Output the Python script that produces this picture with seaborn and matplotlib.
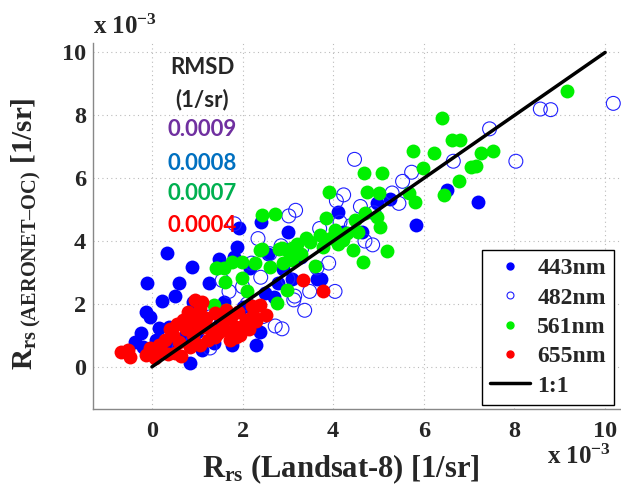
import pandas as pd
import seaborn as sns
import matplotlib.pyplot as plt
from matplotlib.lines import Line2D

# Rrs valores (x 10^-3)
b443_x = [-0.37, -0.20, -0.24, -0.13, -0.04, -0.11, 0.15, 0.37, 0.22, 0.50, 0.60, 0.33, 0.88, 0.90,
          1.26, 1.48, 1.60, 0.84, 1.37, 1.77, 2.30, 2.38, 1.88, 1.80, 1.92, 2.40, 3.00, 2.16, 2.70,
          2.78, 2.50, 3.64, 3.72, 4.10, 4.97, 5.25, 4.63, 4.22, 5.83, 6.50, 7.20, 0.70, 1.00, 1.50,
          0.40, 2.00, 2.90, 3.30, 1.10, 0.10, 2.55, 3.10]
b443_y = [0.80, 0.64, 1.08, 1.75, 1.60, 2.68, 1.24, 1.28, 2.10, 2.26, 2.68, 3.62, 3.18, 2.07,
          2.68, 3.44, 2.07, 0.13, 0.76, 0.70, 0.70, 1.12, 3.80, 3.50, 4.43, 4.60, 4.30, 3.15, 2.23,
          2.68, 2.35, 2.80, 2.80, 4.93, 5.22, 5.35, 4.30, 4.30, 4.52, 5.63, 5.25, 0.95, 1.10, 1.40,
          0.70, 1.90, 3.10, 3.50, 0.55, 0.85, 3.60, 2.80]

b482_x = [10.18, 8.80, 7.45, 6.65, 8.03, 4.47, 5.73, 5.53, 5.30, 5.45, 4.23, 4.07, 4.90, 3.17,
          3.02, 2.34, 1.82, 3.70, 4.87, 3.64, 3.37, 2.87, 2.72, 3.00, 3.48, 4.04, 3.13, 2.60, 2.20,
          1.70, 1.55, 2.00, 2.85, 3.30, 4.40, 4.60, 4.15, 1.28, 1.20, 1.90, 2.20, 2.45, 1.60, 0.90,
          0.60, 1.30, 2.10, 3.15, 3.90, 4.70, 2.40, 8.57]
b482_y = [8.38, 8.18, 7.57, 6.54, 6.54, 6.60, 6.19, 5.90, 5.53, 5.20, 5.47, 5.28, 4.90, 4.98,
          4.80, 4.08, 4.55, 4.40, 3.88, 3.15, 1.80, 1.21, 1.30, 2.80, 2.40, 2.40, 2.13, 3.60, 3.30,
          2.40, 2.75, 2.55, 3.85, 3.75, 4.50, 5.10, 4.60, 0.60, 1.00, 1.10, 1.50, 1.60, 1.30, 0.80,
          0.60, 1.60, 2.00, 2.25, 3.30, 4.00, 2.85, 8.20]

b561_x = [9.16, 6.40, 6.62, 6.80, 5.76, 6.22, 7.26, 7.53, 5.98, 7.04, 7.15, 6.78, 6.45, 5.80,
          5.67, 4.68, 5.08, 3.90, 4.75, 5.00, 3.84, 4.48, 4.97, 5.03, 4.04, 4.22, 3.49, 3.78, 4.44,
          5.19, 4.66, 3.60, 2.72, 2.38, 2.80, 1.77, 1.99, 1.43, 2.27, 2.60, 1.61, 1.99, 2.98, 2.76,
          2.10, 1.37, 1.63, 3.10, 3.30, 3.00, 3.95, 3.70, 4.30, 4.10, 3.20, 2.90, 4.55, 4.70, 3.40,
          2.43, 2.87, 3.09, 2.43, 1.41, 1.60]
b561_y = [8.76, 7.90, 7.23, 7.23, 6.88, 6.80, 6.80, 6.88, 6.34, 6.37, 6.40, 5.90, 5.48, 5.25,
          5.53, 6.15, 6.18, 5.57, 5.57, 5.54, 4.74, 4.68, 4.78, 4.46, 4.36, 4.04, 3.98, 3.82, 3.73,
          3.69, 3.35, 3.20, 4.87, 3.73, 3.76, 3.35, 3.35, 3.15, 3.31, 3.18, 2.70, 2.83, 2.45, 2.04,
          2.40, 1.97, 1.80, 3.40, 3.60, 3.70, 4.10, 4.20, 4.25, 3.90, 3.90, 3.30, 4.30, 4.90, 4.10,
          4.84, 3.79, 3.79, 3.76, 3.15, 3.15]

b655_x = [-0.68, -0.53, -0.49, -0.13, -0.04, 0.07, 0.29, 0.46, 0.51, 0.68, 0.84, 0.95, 1.06, 1.13,
          1.24, 1.39, 1.46, 1.61, 1.72, 1.85, 1.94, 2.08, 2.23, 2.38, 2.52, 1.63, 0.95, 3.33, 3.77,
          0.20, 0.35, 0.60, 0.75, 0.90, 1.00, 1.20, 1.30, 1.55, 1.75, 1.90, 2.00, 2.15, 0.40, 0.55,
          0.80, 1.10, 1.40, 0.65, 1.05, 1.70, 2.30, 0.15, 1.85, 2.20, 0.85]
b655_y = [0.48, 0.54, 0.32, 0.38, 0.60, 0.28, 0.86, 1.02, 0.45, 1.50, 0.64, 1.66, 1.88, 1.28,
          0.86, 1.72, 1.08, 1.50, 0.86, 1.28, 1.02, 1.50, 1.66, 1.97, 1.66, 1.82, 2.13, 2.77, 2.40,
          0.55, 0.40, 0.80, 1.20, 1.00, 1.40, 1.55, 1.20, 1.25, 1.60, 1.75, 1.30, 1.20, 1.20, 1.35,
          1.75, 2.05, 0.95, 0.35, 0.70, 1.10, 1.45, 0.70, 0.95, 1.95, 1.55]

rmsd_labels = ['0.0009', '0.0008', '0.0007', '0.0004']
rmsd_colors = ['#7030A0', '#0070C0', '#00B050', '#FF0000']
bands = ['443nm', '482nm', '561nm', '655nm']
ticks = [0, 2, 4, 6, 8, 10]

SERIF = 'Liberation Serif'


def main():
    sns.set_style('white')
    plt.rcParams['font.family'] = [SERIF, 'DejaVu Serif']
    plt.rcParams['mathtext.fontset'] = 'custom'
    plt.rcParams['mathtext.rm'] = SERIF
    plt.rcParams['mathtext.bf'] = SERIF + ':bold'
    plt.rcParams['mathtext.it'] = SERIF + ':italic'

    fig = plt.figure(figsize=(6.21, 4.92), dpi=100)
    ax = fig.add_axes([0.1498, 0.1687, 0.8502, 0.7439])

    sns.scatterplot(x=b443_x, y=b443_y, ax=ax, color='#0000FF', s=100, linewidth=0, zorder=3)
    sns.scatterplot(x=b482_x, y=b482_y, ax=ax, facecolor='none', edgecolor='#2020FF', s=100,
                    linewidth=0.8, zorder=3)
    sns.scatterplot(x=b561_x, y=b561_y, ax=ax, color='#00F000', s=100, linewidth=0, zorder=3)
    sns.scatterplot(x=b655_x, y=b655_y, ax=ax, color='#FF0000', s=100, linewidth=0, zorder=3)
    sns.lineplot(x=[0, 10], y=[0, 10], ax=ax, color='black', linewidth=2.5, zorder=4)

    ax.set_xlim(-1.3, 10.35)
    ax.set_ylim(-1.34, 10.3)
    ax.set_xticks(ticks)
    ax.set_yticks(ticks)
    ax.tick_params(direction='in', length=4, color='#888888', labelsize=17.5)
    ax.tick_params(axis='x', pad=9)
    ax.tick_params(axis='y', pad=5)
    for lab in ax.get_xticklabels() + ax.get_yticklabels():
        lab.set_fontweight('bold')
    ax.grid(True, linestyle=(0, (1, 3)), color='#bbbbbb', linewidth=0.8)
    for side in ['top', 'right']:
        ax.spines[side].set_visible(False)
    for side in ['left', 'bottom']:
        ax.spines[side].set_color('#888888')
        ax.spines[side].set_linewidth(1.0)

    ax.set_xlabel(r'$\mathbf{R}_{\mathbf{rs}}$ (Landsat-8) [1/sr]', fontsize=22,
                  fontweight='bold')
    ax.xaxis.set_label_coords(0.469, -0.12)
    ax.set_ylabel(r'$\mathbf{R}_{\mathbf{rs\ (AERONET–OC)}}$ [1/sr]', fontsize=21,
                  fontweight='bold')
    ax.yaxis.set_label_coords(-0.095, 0.48)

    fig.text(93 / 621, 1 - 27 / 492, r'x 10$^{\mathbf{-3}}$', fontsize=18, fontweight='bold',
             ha='left', va='center')
    fig.text(547 / 621, 1 - 457 / 492, r'x 10$^{\mathbf{-3}}$', fontsize=18, fontweight='bold',
             ha='left', va='center')

    # bloco de RMSD
    cx = 202 / 621
    fig.text(cx, 1 - 68 / 492, 'RMSD', fontsize=16, fontweight='bold', family='Lato',
             ha='center', va='center')
    fig.text(cx, 1 - 100 / 492, '(1/sr)', fontsize=16, fontweight='bold', family='Lato',
             ha='center', va='center')
    for i, (txt, col) in enumerate(zip(rmsd_labels, rmsd_colors)):
        yy = [130, 163, 194, 226][i]
        fig.text(cx, 1 - yy / 492, txt, fontsize=16, fontweight='bold', family='Lato',
                 color=col, ha='center', va='center')

    handles = [
        Line2D([], [], marker='o', linestyle='none', color='#0000FF', markersize=5),
        Line2D([], [], marker='o', linestyle='none', markerfacecolor='none',
               markeredgecolor='#2020FF', markersize=5, markeredgewidth=0.8),
        Line2D([], [], marker='o', linestyle='none', color='#00F000', markersize=5),
        Line2D([], [], marker='o', linestyle='none', color='#FF0000', markersize=5),
        Line2D([], [], color='black', linewidth=2.5),
    ]
    leg = ax.legend(handles, bands + ['1:1'], loc='lower right', bbox_to_anchor=(0.987, 0.011),
                    borderaxespad=0, fancybox=False, framealpha=1, edgecolor='black',
                    prop={'family': SERIF, 'weight': 'bold', 'size': 17},
                    handlelength=1.7, handletextpad=0.3, labelspacing=0.33, borderpad=0.35)
    leg.get_frame().set_linewidth(1.0)
    leg.set_zorder(5)

    fig.savefig('out.png', dpi=100)


if __name__ == "__main__":
    main()
